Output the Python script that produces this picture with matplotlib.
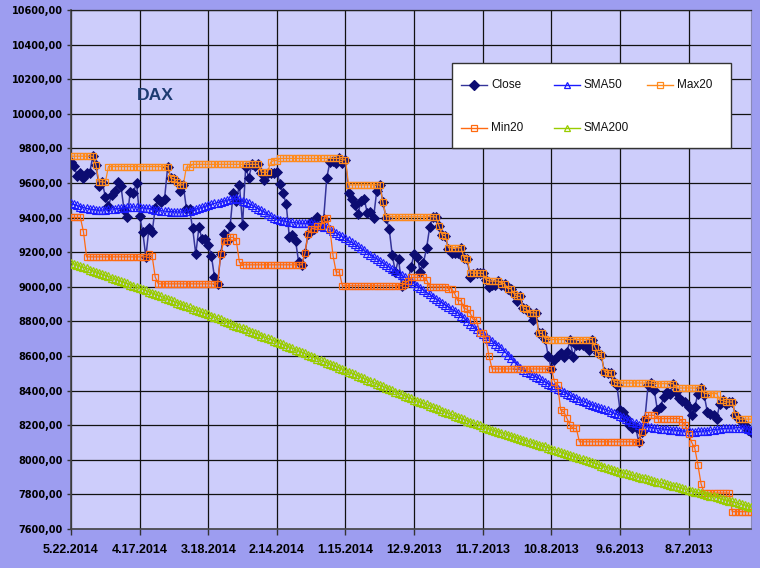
import matplotlib
matplotlib.use('Agg')
import matplotlib.pyplot as plt
import numpy as np
from matplotlib.patches import Rectangle

plt.rcParams['font.family'] = ['Liberation Sans', 'DejaVu Sans']

# ---------------- data (newest first, one value per trading day) ----------------
tick_labels = ['5.22.2014', '4.17.2014', '3.18.2014', '2.14.2014', '1.15.2014',
               '12.9.2013', '11.7.2013', '10.8.2013', '9.6.2013', '8.7.2013']
tick_every = 22
y_ticks = [7600, 7800, 8000, 8200, 8400, 8600, 8800, 9000, 9200, 9400,
           9600, 9800, 10000, 10200, 10400, 10600]

close = [
    9721, 9697, 9640, 9660, 9630, 9656, 9660, 9755, 9703, 9581,
    9607, 9521, 9467, 9529, 9556, 9603, 9584, 9446, 9401, 9549,
    9544, 9600, 9409, 9317, 9173, 9339, 9315, 9454, 9506, 9490,
    9510, 9695, 9628, 9623, 9603, 9556, 9587, 9451, 9448, 9338,
    9189, 9343, 9277, 9277, 9242, 9180, 9056, 9017, 9189, 9307,
    9265, 9350, 9543, 9497, 9589, 9358, 9692, 9630, 9708, 9700,
    9708, 9656, 9618, 9660, 9656, 9660, 9662, 9597, 9540, 9478,
    9286, 9302, 9265, 9141, 9127, 9194, 9306, 9373, 9336, 9406,
    9349, 9393, 9631, 9720, 9730, 9716, 9742, 9717, 9734, 9540,
    9510, 9473, 9421, 9497, 9506, 9428, 9435, 9400, 9552, 9589,
    9488, 9400, 9336, 9181, 9085, 9163, 9006, 9017, 9034, 9114,
    9191, 9172, 9085, 9140, 9225, 9345, 9405, 9403, 9350, 9299,
    9294, 9220, 9193, 9194, 9197, 9226, 9168, 9159, 9054, 9076,
    9079, 9079, 9078, 9041, 8999, 9010, 9009, 9033, 9010, 9019,
    8990, 8990, 8960, 8920, 8945, 8875, 8870, 8846, 8810, 8850,
    8731, 8731, 8700, 8600, 8525, 8575, 8600, 8619, 8596, 8625,
    8690, 8596, 8663, 8666, 8665, 8665, 8636, 8695, 8650, 8615,
    8605, 8509, 8500, 8503, 8451, 8432, 8287, 8277, 8239, 8200,
    8181, 8190, 8104, 8161, 8238, 8431, 8444, 8402, 8286, 8305,
    8363, 8392, 8383, 8440, 8392, 8360, 8340, 8334, 8305, 8257,
    8305, 8383, 8415, 8373, 8277, 8267, 8257, 8238, 8325, 8344,
    8325, 8334, 8334, 8257, 8238, 8219, 8200, 8171, 8160]

sma50 = [
    9482, 9476, 9470, 9464, 9458, 9453, 9450, 9447, 9445, 9443,
    9444, 9446, 9447, 9449, 9451, 9453, 9455, 9457, 9459, 9461,
    9462, 9461, 9459, 9457, 9455, 9453, 9450, 9446, 9443, 9440,
    9437, 9436, 9435, 9434, 9433, 9433, 9433, 9437, 9441, 9446,
    9450, 9455, 9460, 9466, 9471, 9477, 9482, 9487, 9492, 9496,
    9501, 9505, 9508, 9511, 9505, 9498, 9491, 9482, 9472, 9462,
    9452, 9443, 9432, 9421, 9410, 9400, 9390, 9386, 9382, 9378,
    9375, 9372, 9370, 9369, 9368, 9367, 9367, 9366, 9362, 9357,
    9353, 9348, 9343, 9333, 9322, 9312, 9301, 9291, 9280, 9268,
    9257, 9245, 9234, 9222, 9210, 9198, 9186, 9174, 9162, 9150,
    9138, 9126, 9114, 9102, 9090, 9078, 9066, 9055, 9043, 9032,
    9020, 9007, 8994, 8981, 8968, 8956, 8943, 8930, 8918, 8907,
    8895, 8884, 8872, 8861, 8850, 8834, 8819, 8803, 8787, 8771,
    8756, 8740, 8726, 8713, 8699, 8686, 8672, 8659, 8645, 8626,
    8607, 8588, 8568, 8549, 8530, 8520, 8510, 8500, 8490, 8480,
    8470, 8460, 8450, 8441, 8431, 8422, 8412, 8402, 8393, 8383,
    8374, 8364, 8356, 8348, 8341, 8333, 8325, 8319, 8312, 8306,
    8300, 8293, 8287, 8279, 8271, 8264, 8256, 8248, 8238, 8229,
    8219, 8210, 8200, 8197, 8194, 8191, 8187, 8184, 8181, 8179,
    8178, 8176, 8174, 8173, 8171, 8169, 8167, 8166, 8164, 8162,
    8163, 8164, 8166, 8167, 8169, 8171, 8174, 8176, 8179, 8181,
    8182, 8183, 8184, 8185, 8186, 8186, 8186, 8180, 8172]

max20 = [
    9755, 9755, 9755, 9755, 9755, 9755, 9755, 9755, 9703, 9607,
    9607, 9603, 9695, 9695, 9695, 9695, 9695, 9695, 9695, 9695,
    9695, 9695, 9695, 9695, 9695, 9695, 9695, 9695, 9695, 9695,
    9695, 9695, 9628, 9623, 9603, 9589, 9589, 9692, 9692, 9708,
    9708, 9708, 9708, 9708, 9708, 9708, 9708, 9708, 9708, 9708,
    9708, 9708, 9708, 9708, 9708, 9708, 9708, 9708, 9708, 9708,
    9708, 9662, 9662, 9662, 9720, 9730, 9730, 9742, 9742, 9742,
    9742, 9742, 9742, 9742, 9742, 9742, 9742, 9742, 9742, 9742,
    9742, 9742, 9742, 9742, 9742, 9742, 9742, 9734, 9734, 9589,
    9589, 9589, 9589, 9589, 9589, 9589, 9589, 9589, 9589, 9589,
    9488, 9405, 9405, 9405, 9405, 9405, 9405, 9405, 9405, 9405,
    9405, 9405, 9405, 9405, 9405, 9405, 9405, 9403, 9350, 9299,
    9294, 9226, 9226, 9226, 9226, 9226, 9168, 9159, 9079, 9079,
    9079, 9079, 9078, 9041, 9033, 9033, 9033, 9033, 9019, 9019,
    8990, 8990, 8960, 8945, 8945, 8875, 8870, 8850, 8850, 8850,
    8731, 8731, 8700, 8695, 8695, 8695, 8695, 8695, 8695, 8695,
    8695, 8695, 8695, 8695, 8695, 8695, 8695, 8695, 8650, 8615,
    8605, 8509, 8503, 8503, 8451, 8444, 8444, 8444, 8444, 8444,
    8444, 8444, 8444, 8444, 8444, 8444, 8444, 8440, 8440, 8440,
    8440, 8440, 8440, 8440, 8415, 8415, 8415, 8415, 8415, 8415,
    8415, 8415, 8415, 8383, 8383, 8383, 8383, 8383, 8344, 8344,
    8334, 8334, 8334, 8257, 8235, 8235, 8235, 8235, 8235]

min20 = [
    9401, 9401, 9401, 9401, 9317, 9173, 9173, 9173, 9173, 9173,
    9173, 9173, 9173, 9173, 9173, 9173, 9173, 9173, 9173, 9173,
    9173, 9173, 9173, 9173, 9173, 9189, 9180, 9056, 9017, 9017,
    9017, 9017, 9017, 9017, 9017, 9017, 9017, 9017, 9017, 9017,
    9017, 9017, 9017, 9017, 9017, 9017, 9017, 9017, 9189, 9265,
    9265, 9286, 9286, 9265, 9141, 9127, 9127, 9127, 9127, 9127,
    9127, 9127, 9127, 9127, 9127, 9127, 9127, 9127, 9127, 9127,
    9127, 9127, 9127, 9127, 9127, 9194, 9306, 9336, 9336, 9349,
    9349, 9393, 9400, 9336, 9181, 9085, 9085, 9006, 9006, 9006,
    9006, 9006, 9006, 9006, 9006, 9006, 9006, 9006, 9006, 9006,
    9006, 9006, 9006, 9006, 9006, 9006, 9006, 9017, 9034, 9054,
    9054, 9054, 9054, 9054, 9041, 8999, 8999, 8999, 8999, 8999,
    8999, 8990, 8990, 8960, 8920, 8920, 8875, 8870, 8846, 8810,
    8810, 8731, 8731, 8700, 8600, 8525, 8525, 8525, 8525, 8525,
    8525, 8525, 8525, 8525, 8525, 8525, 8525, 8525, 8525, 8525,
    8525, 8525, 8525, 8525, 8525, 8451, 8432, 8287, 8277, 8239,
    8200, 8181, 8181, 8104, 8104, 8104, 8104, 8104, 8104, 8104,
    8104, 8104, 8104, 8104, 8104, 8104, 8104, 8104, 8104, 8104,
    8104, 8104, 8104, 8161, 8238, 8257, 8257, 8257, 8238, 8238,
    8238, 8238, 8238, 8238, 8238, 8238, 8219, 8200, 8152, 8100,
    8066, 7968, 7860, 7808, 7808, 7808, 7808, 7808, 7808, 7808,
    7808, 7808, 7700, 7700, 7700, 7700, 7700, 7700, 7700]

sma200 = [
    9140, 9133, 9127, 9120, 9113, 9107, 9100, 9093, 9087, 9080,
    9073, 9067, 9060, 9053, 9047, 9040, 9033, 9027, 9020, 9013,
    9007, 9000, 8993, 8986, 8979, 8972, 8965, 8958, 8951, 8944,
    8937, 8930, 8923, 8916, 8909, 8902, 8895, 8888, 8881, 8874,
    8867, 8860, 8853, 8847, 8840, 8833, 8826, 8818, 8811, 8804,
    8797, 8790, 8782, 8775, 8768, 8761, 8754, 8746, 8739, 8732,
    8725, 8718, 8710, 8703, 8696, 8689, 8682, 8675, 8667, 8660,
    8652, 8645, 8637, 8630, 8622, 8615, 8607, 8600, 8592, 8585,
    8577, 8570, 8562, 8555, 8547, 8540, 8532, 8525, 8517, 8509,
    8502, 8494, 8486, 8479, 8471, 8463, 8455, 8448, 8440, 8432,
    8425, 8417, 8409, 8401, 8394, 8386, 8378, 8371, 8363, 8355,
    8348, 8341, 8334, 8327, 8320, 8312, 8305, 8298, 8291, 8284,
    8277, 8270, 8263, 8256, 8249, 8241, 8234, 8227, 8220, 8213,
    8206, 8199, 8192, 8186, 8180, 8174, 8169, 8163, 8157, 8151,
    8146, 8140, 8134, 8128, 8123, 8117, 8111, 8105, 8100, 8094,
    8088, 8082, 8077, 8071, 8065, 8059, 8053, 8047, 8041, 8035,
    8028, 8022, 8016, 8010, 8004, 7998, 7992, 7986, 7980, 7974,
    7967, 7961, 7955, 7949, 7943, 7936, 7930, 7925, 7921, 7916,
    7911, 7907, 7902, 7897, 7893, 7888, 7883, 7879, 7874, 7869,
    7864, 7860, 7855, 7850, 7846, 7841, 7836, 7831, 7826, 7821,
    7816, 7812, 7807, 7802, 7797, 7792, 7788, 7783, 7778, 7773,
    7768, 7764, 7759, 7754, 7749, 7744, 7740, 7735, 7730]

# ---------------- styles ----------------
C_CLOSE_LINE = '#34349a'
C_CLOSE_MK = '#0c0c72'
C_SMA50 = '#1a1aff'
C_MAX = '#ff8a1c'
C_MIN = '#ff6a10'
C_SMA200 = '#99cc00'

W, H = 770, 578
fig = plt.figure(figsize=(W / 100, H / 100), dpi=100)
fig.patch.set_facecolor('white')
bg = Rectangle((0, (H - 568) / H), 760 / W, 568 / H,
               transform=fig.transFigure, facecolor='#9d9df0',
               edgecolor='none', zorder=-10)
fig.patches.append(bg)

ax = fig.add_axes([71 / W, (H - 529) / H, 680 / W, 519 / H])
ax.set_zorder(1)
ax.set_facecolor('#cdcdfb')


def xs(s):
    return np.arange(len(s))


ax.plot(xs(close), close, color=C_CLOSE_LINE, lw=1.1, marker='D', ms=4.8,
        mfc=C_CLOSE_MK, mec=C_CLOSE_MK, mew=0.6, zorder=3)
ax.plot(xs(sma50), sma50, color=C_SMA50, lw=0.9, marker='^', ms=5.6,
        mfc='none', mec=C_SMA50, mew=0.8, zorder=4)
ax.plot(xs(max20), max20, color=C_MAX, lw=0.9, marker='s', ms=4.6,
        mfc='none', mec=C_MAX, mew=0.9, zorder=5)
ax.plot(xs(min20), min20, color=C_MIN, lw=0.9, marker='s', ms=4.6,
        mfc='none', mec=C_MIN, mew=0.9, zorder=6)
ax.plot(xs(sma200), sma200, color=C_SMA200, lw=0.9, marker='^', ms=6.2,
        mfc='none', mec=C_SMA200, mew=0.9, zorder=7)

n = len(close)
ax.set_xlim(0, n - 1)
ax.set_ylim(y_ticks[0], y_ticks[-1])

ax.set_yticks(y_ticks)
ax.set_yticklabels([f'{v},00' for v in y_ticks], fontsize=7, fontweight='bold',
                   family='DejaVu Sans')
xt = [i * tick_every for i in range(len(tick_labels))]
ax.set_xticks(xt)
ax.set_xticklabels(tick_labels, fontsize=9, fontweight='bold')
ax.tick_params(axis='y', direction='out', length=3, width=1, color='#333333', pad=3)
ax.tick_params(axis='x', direction='out', length=4, width=1, color='#333333', pad=7)

ax.grid(True, color='#111111', lw=0.9)
ax.set_axisbelow(True)
for side in ['left', 'bottom']:
    ax.spines[side].set_color('#444444')
    ax.spines[side].set_linewidth(1.2)
ax.spines['right'].set_color('#8a8ab8')
ax.spines['top'].set_color('#222222')
ax.spines['top'].set_linewidth(0.9)

# ---------------- overlay: title text and legend (pixel coordinates) ----------------
ov = fig.add_axes([0, 0, 1, 1])
ov.set_zorder(2)
ov.set_xlim(0, W)
ov.set_ylim(H, 0)
ov.axis('off')

ov.text(155, 96, 'DAX', ha='center', va='center', fontsize=12.6,
        fontweight='bold', color='#1e3c72')

ov.add_patch(Rectangle((452, 63), 279, 85, facecolor='white',
                       edgecolor='#333333', lw=1.0, zorder=10))

legend_rows = [
    [('Close', C_CLOSE_LINE, 'D', C_CLOSE_MK, C_CLOSE_MK),
     ('SMA50', C_SMA50, '^', 'none', C_SMA50),
     ('Max20', C_MAX, 's', 'none', C_MAX)],
    [('Min20', C_MIN, 's', 'none', C_MIN),
     ('SMA200', C_SMA200, '^', 'none', C_SMA200)],
]
col_x = [461, 554, 647]
row_y = [85, 128]
for r, row in enumerate(legend_rows):
    for c, (name, lc, mk, mfc, mec) in enumerate(row):
        x0 = col_x[c]
        y0 = row_y[r]
        ov.plot([x0, x0 + 26], [y0, y0], color=lc, lw=1.0, zorder=11)
        ov.plot([x0 + 13], [y0], marker=mk, ms=4.6, mfc=mfc, mec=mec,
                mew=0.9, zorder=12)
        ov.text(x0 + 30, y0, name, ha='left', va='center', fontsize=8.5,
                color='#111111', zorder=12)

fig.savefig('out.png', dpi=100, facecolor=fig.get_facecolor())
